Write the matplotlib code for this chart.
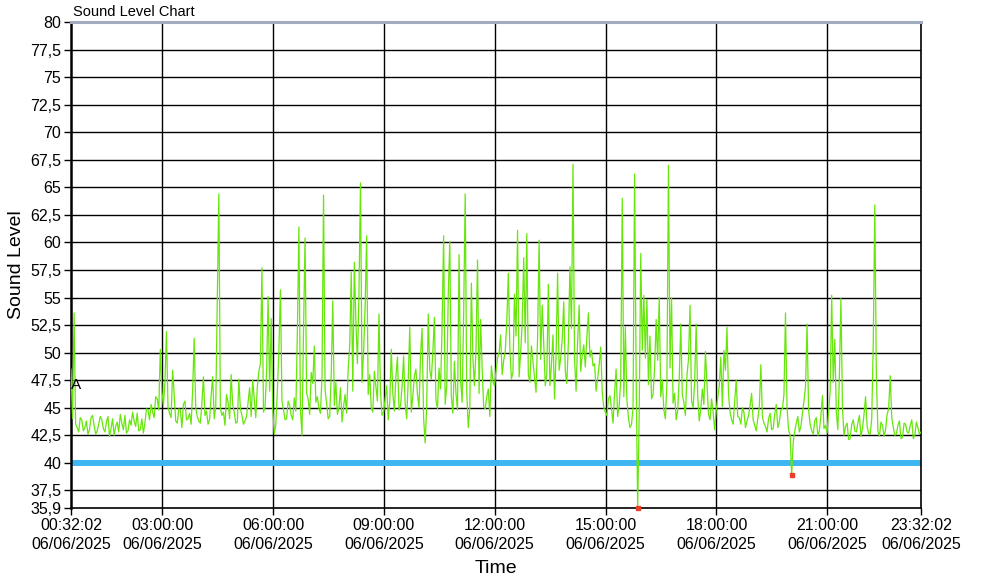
import matplotlib
matplotlib.use("Agg")
import matplotlib.pyplot as plt
import numpy as np
import datetime as dt

plt.rcParams['font.family'] = ['Liberation Sans', 'DejaVu Sans']

# ---- data ----
start_time = dt.datetime(2025, 6, 6, 0, 32, 2)
end_time = dt.datetime(2025, 6, 6, 23, 32, 2)
step_seconds = 150  # samples every 2.5 minutes

# readings on the 5-minute marks
sound_level = [
    48.5, 53.6, 43.2, 44.1, 42.9, 43.8, 43.0, 44.3, 42.6, 43.5,
    43.9, 42.8, 44.2, 43.1, 42.5, 43.7, 44.4, 43.0, 42.7, 43.9,
    44.6, 43.3, 42.9, 44.0, 43.6, 44.8, 45.3, 44.1, 45.8, 50.3,
    45.2, 51.9, 44.5, 48.4, 43.8, 44.9, 43.2, 45.6, 44.0, 43.5,
    51.3, 44.2, 43.6, 47.8, 44.7, 43.9, 47.8, 45.1, 64.4, 44.3,
    43.4, 45.5, 48.0, 44.6, 43.7, 44.9, 43.5, 44.2, 46.8, 47.5,
    44.1, 48.3, 57.7, 45.0, 55.1, 53.1, 42.6, 46.5, 55.7, 44.8,
    44.0, 45.2, 43.9, 44.7, 61.4, 42.5, 60.4, 45.8, 48.2, 50.6,
    46.0, 44.5, 64.3, 45.4, 44.2, 54.7, 47.3, 45.0, 43.7, 46.2,
    48.5, 57.3, 58.2, 49.0, 65.4, 50.0, 60.6, 48.0, 44.6, 46.9,
    53.5, 44.3, 45.8, 43.9, 50.3, 44.7, 49.6, 45.2, 49.7, 44.0,
    52.3, 46.1, 48.5, 45.0, 52.2, 41.8, 53.5, 47.6, 53.2, 44.9,
    46.7, 60.6, 47.0, 60.1, 44.5, 46.3, 58.9, 45.5, 64.4, 43.2,
    56.3, 47.0, 58.4, 53.0, 45.1, 46.0, 44.2, 47.4, 48.3, 50.0,
    48.0, 50.1, 57.2, 47.6, 55.3, 61.1, 50.0, 58.6, 60.8, 47.3,
    49.2, 46.4, 60.2, 54.3, 47.0, 56.2, 48.9, 45.8, 57.2, 49.5,
    54.6, 47.2, 57.8, 67.1, 46.5, 54.3, 49.8, 48.7, 53.6, 50.2,
    49.0, 47.6, 50.5, 45.0, 44.3, 46.1, 43.6, 48.5, 45.2, 64.0,
    52.3, 44.1, 43.5, 66.2, 35.9, 59.0, 55.2, 54.8, 51.5, 46.2,
    53.0, 55.0, 47.5, 44.0, 67.0, 55.0, 46.3, 44.8, 52.6, 45.5,
    47.9, 54.3, 45.0, 52.6, 43.8, 46.7, 50.1, 44.4, 45.8, 43.0,
    45.9, 49.6, 50.2, 52.3, 44.6, 43.5, 47.5, 44.1, 45.0, 43.2,
    44.3, 46.3, 43.4, 44.0, 48.9, 43.6, 42.8, 44.5, 43.1, 45.3,
    43.7, 44.9, 53.6, 43.0, 38.9, 42.9, 44.2, 43.3, 45.6, 52.6,
    43.5, 42.6, 44.1, 42.9, 46.1, 43.4, 44.7, 55.2, 51.2, 43.0,
    54.9, 42.5, 43.6, 42.2, 43.9, 42.8, 44.3, 43.1, 46.0, 42.7,
    44.0, 63.4, 42.9, 43.7, 42.4, 44.4, 47.9, 43.2, 42.6, 43.8,
    42.3, 43.5, 42.7, 43.9, 42.5, 43.2, 42.8,
]
# readings half-way between the 5-minute marks
sound_level_mid = [
    44.0, 43.5, 42.8, 43.9, 43.2, 42.6, 44.1, 43.4, 42.9, 44.2,
    43.1, 43.7, 42.4, 44.0, 43.3, 42.8, 43.6, 44.3, 42.9, 43.4,
    43.8, 44.5, 43.0, 42.7, 44.9, 43.9, 44.6, 46.0, 44.8, 46.5,
    47.3, 45.0, 44.1, 46.2, 43.6, 44.8, 45.3, 43.9, 44.5, 46.6,
    45.0, 43.8, 45.4, 44.3, 43.5, 46.1, 44.0, 54.5, 45.0, 44.6,
    46.2, 44.0, 45.3, 43.6, 47.6, 44.3, 43.8, 45.5, 44.2, 45.8,
    46.9, 49.0, 44.6, 48.2, 46.5, 44.9, 43.5, 50.2, 45.6, 43.9,
    45.6, 44.3, 45.9, 51.8, 44.8, 52.0, 46.3, 44.4, 47.2, 45.5,
    44.9, 47.8, 46.6, 44.0, 48.0, 45.2, 44.4, 46.8, 45.1, 44.5,
    50.6, 46.5, 52.8, 55.4, 47.3, 54.1, 46.2, 45.0, 48.3, 45.6,
    46.4, 44.6, 47.0, 45.5, 46.3, 47.8, 44.8, 46.9, 45.4, 47.5,
    44.6, 47.9, 46.2, 49.8, 44.0, 45.2, 48.4, 50.1, 45.7, 48.6,
    52.5, 45.3, 55.3, 46.0, 49.2, 44.8, 47.6, 53.6, 46.4, 45.0,
    49.5, 50.2, 46.3, 48.6, 44.9, 46.7, 48.8, 47.0, 49.5, 51.6,
    49.3, 52.8, 50.4, 48.2, 51.5, 47.8, 52.7, 50.9, 48.0, 50.6,
    47.8, 51.3, 49.4, 50.8, 48.1, 47.0, 51.6, 49.8, 48.4, 51.2,
    48.3, 50.9, 52.2, 49.5, 51.0, 48.3, 50.7, 51.4, 49.6, 48.8,
    46.5, 48.9, 46.4, 44.6, 45.8, 44.9, 46.3, 44.2, 47.5, 46.0,
    45.7, 43.2, 45.0, 48.0, 44.5, 50.2, 49.5, 47.1, 45.8, 48.6,
    49.3, 46.0, 44.8, 47.3, 48.6, 45.4, 43.9, 47.7, 46.1, 44.3,
    49.4, 45.6, 47.3, 46.0, 44.9, 45.3, 47.2, 43.9, 44.6, 44.8,
    47.0, 45.1, 48.4, 46.2, 43.9, 45.6, 44.2, 43.5, 44.6, 43.8,
    45.2, 43.9, 42.9, 45.1, 44.2, 43.3, 44.0, 43.0, 44.4, 43.2,
    44.8, 46.2, 45.0, 42.5, 41.8, 43.6, 42.8, 44.5, 46.9, 44.8,
    42.9, 43.8, 42.5, 44.3, 43.1, 42.7, 46.5, 47.3, 44.6, 47.9,
    45.0, 43.3, 42.1, 43.5, 42.9, 43.6, 42.4, 44.4, 43.3, 42.6,
    51.0, 48.0, 42.4, 43.4, 43.0, 44.9, 44.1, 42.5, 43.4, 42.2,
    43.6, 42.8, 43.4, 42.2, 43.7, 42.6,
]
threshold = 40.0
y_ticks = [35.9, 37.5, 40, 42.5, 45, 47.5, 50, 52.5, 55, 57.5, 60, 62.5,
           65, 67.5, 70, 72.5, 75, 77.5, 80]
x_tick_hours = [3, 6, 9, 12, 15, 18, 21]

n = len(sound_level) + len(sound_level_mid)
values = np.empty(n)
values[0::2] = sound_level
values[1::2] = sound_level_mid
times = np.array([start_time + dt.timedelta(seconds=step_seconds * i) for i in range(n)])

fig = plt.figure(figsize=(9.9, 5.88), dpi=100)
ax = fig.add_axes([71 / 990, 1 - 508 / 588, 850 / 990, 486 / 588])

ax.plot(times, values, color='#66e60a', lw=0.9, zorder=3)
ax.axhline(threshold, color='#3db6f2', lw=4.3, zorder=2)

low = values < threshold
ax.plot(times[low], values[low], ls='none', marker='s', ms=3.5,
        mfc='#e8402a', mec='#e8402a', zorder=4, clip_on=False)

ax.set_xlim(start_time, end_time)
ax.set_ylim(35.9, 80)

xt = [start_time] + [dt.datetime(2025, 6, 6, h) for h in x_tick_hours] + [end_time]
ax.set_xticks(xt)
ax.set_xticklabels([t.strftime('%H:%M:%S') + '\n' + t.strftime('%d/%m/%Y') for t in xt],
                   fontsize=11.5, linespacing=1.35)
ax.set_yticks(y_ticks)
ax.set_yticklabels([('%g' % v).replace('.', ',') for v in y_ticks], fontsize=11.5)

for v in y_ticks[1:-1]:
    ax.axhline(v, color='black', lw=1.0, zorder=1)
for t in xt[1:-1]:
    ax.axvline(t, color='black', lw=1.0, zorder=1)

ax.tick_params(axis='both', direction='out', length=5, width=1, color='black', pad=2)

ax.spines['left'].set_linewidth(1.8)
ax.spines['right'].set_linewidth(1.2)
ax.spines['bottom'].set_linewidth(1.2)
ax.spines['top'].set_color('#a3abbf')
ax.spines['top'].set_linewidth(2.2)

ax.set_ylabel('Sound Level', fontsize=14, labelpad=4)
ax.set_xlabel('Time', fontsize=14, labelpad=6)

fig.text(73 / 990, 1 - 12 / 588, 'Sound Level Chart', fontsize=10.5, va='center', ha='left')
ax.text(start_time, 47.1, 'A', fontsize=11, ha='left', va='center', zorder=5)

fig.savefig('out.png', dpi=100)
